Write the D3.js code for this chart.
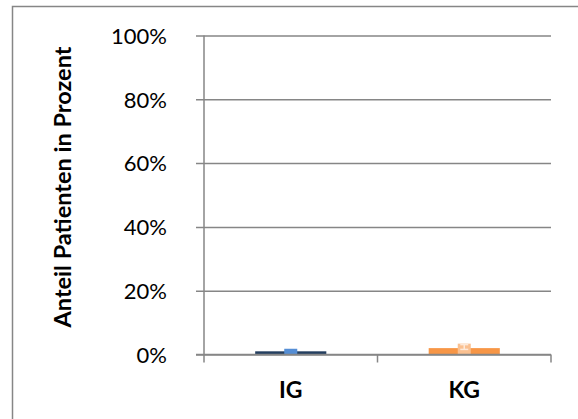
<!DOCTYPE html>
<html><head><meta charset="utf-8">
<script src="https://cdn.jsdelivr.net/npm/d3@7/dist/d3.min.js"></script>
<style>body{margin:0;background:#fff;}svg{display:block;}</style>
</head><body>
<svg id="chart" width="578" height="419"></svg>
<script>
const categories = ["IG", "KG"];
const mainValues = [0.010, 0.020];
const overlayValues = [0.018, 0.034];
const errLow = [null, 0.016];
const errHigh = [null, 0.031];
const yTicks = [0, 0.2, 0.4, 0.6, 0.8, 1.0];
const yTitle = "Anteil Patienten in Prozent";
const mainColors = ["#243F60", "#F79646"];
const overlayColors = ["#558ED5", "#FAC090"];

const svg = d3.select("#chart");
const grid = "#868686";
const font = "Lato, 'Open Sans', sans-serif";

svg.append("rect").attr("x", 12.5).attr("y", 6.5).attr("width", 620).attr("height", 440)
  .attr("fill", "#fff").attr("stroke", grid).attr("stroke-width", 1.5);

const y = d3.scaleLinear().domain([0, 1]).range([354.5, 35.5]);
const x = d3.scaleBand().domain(categories).range([204, 551]).padding(0);

const yAxis = d3.axisLeft(y).tickValues(yTicks).tickSize(355).tickFormat(d3.format(".0%")).tickPadding(0);
const gy = svg.append("g").attr("transform", "translate(551,0)").call(yAxis);
gy.select(".domain").remove();
gy.selectAll(".tick line").attr("stroke", grid).attr("stroke-width", 1.5);
gy.selectAll(".tick text").attr("x", -384).attr("dy", "0.35em")
  .attr("font-family", font).attr("font-size", 22).attr("fill", "#000").attr("text-anchor", "end");

svg.append("line").attr("x1", 204).attr("x2", 204).attr("y1", y(1)).attr("y2", y(0))
  .attr("stroke", grid).attr("stroke-width", 1.5);

const xAxis = d3.axisBottom(x).tickSize(0).tickPadding(27);
const gx = svg.append("g").attr("transform", `translate(0,${y(0)})`).call(xAxis);
gx.select(".domain").remove();
gx.selectAll(".tick text").attr("font-family", font).attr("font-weight", "bold").attr("font-size", 23).attr("fill", "#000");
const bounds = [204, ...categories.map(c => x(c) + x.bandwidth())];
svg.append("g").selectAll("line").data(bounds).join("line")
  .attr("x1", d => d).attr("x2", d => d).attr("y1", y(0)).attr("y2", y(0) + 8)
  .attr("stroke", grid).attr("stroke-width", 1.5);

const bw = x.bandwidth() * 0.41;
svg.append("g").selectAll("rect").data(categories).join("rect")
  .attr("x", d => x(d) + (x.bandwidth() - bw) / 2)
  .attr("width", bw)
  .attr("y", (d, i) => y(mainValues[i]))
  .attr("height", (d, i) => y(0) - y(mainValues[i]))
  .attr("fill", (d, i) => mainColors[i]);

const ow = x.bandwidth() * 0.075;
svg.append("g").selectAll("rect").data(categories).join("rect")
  .attr("x", d => x(d) + (x.bandwidth() - ow) / 2)
  .attr("width", ow)
  .attr("y", (d, i) => y(overlayValues[i]))
  .attr("height", (d, i) => y(0) - y(overlayValues[i]))
  .attr("fill", (d, i) => overlayColors[i]);

const eg = svg.append("g");
categories.forEach((c, i) => {
  if (errLow[i] == null) return;
  const cx = x(c) + x.bandwidth() / 2;
  eg.append("line").attr("x1", cx).attr("x2", cx).attr("y1", y(errLow[i])).attr("y2", y(errHigh[i])).attr("stroke", "#FDE9D9").attr("stroke-width", 1.5);
  [errLow[i], errHigh[i]].forEach(v => eg.append("line").attr("x1", cx - 4).attr("x2", cx + 4).attr("y1", y(v)).attr("y2", y(v)).attr("stroke", "#FDE9D9").attr("stroke-width", 1.5));
});

svg.append("line").attr("x1", 196).attr("x2", 551).attr("y1", y(0)).attr("y2", y(0))
  .attr("stroke", grid).attr("stroke-width", 1.5);

svg.append("text").attr("transform", "translate(71,187) rotate(-90)")
  .attr("text-anchor", "middle").attr("font-family", font).attr("font-weight", "bold")
  .attr("font-size", 23.5).attr("fill", "#000").text(yTitle);
</script>
</body></html>
